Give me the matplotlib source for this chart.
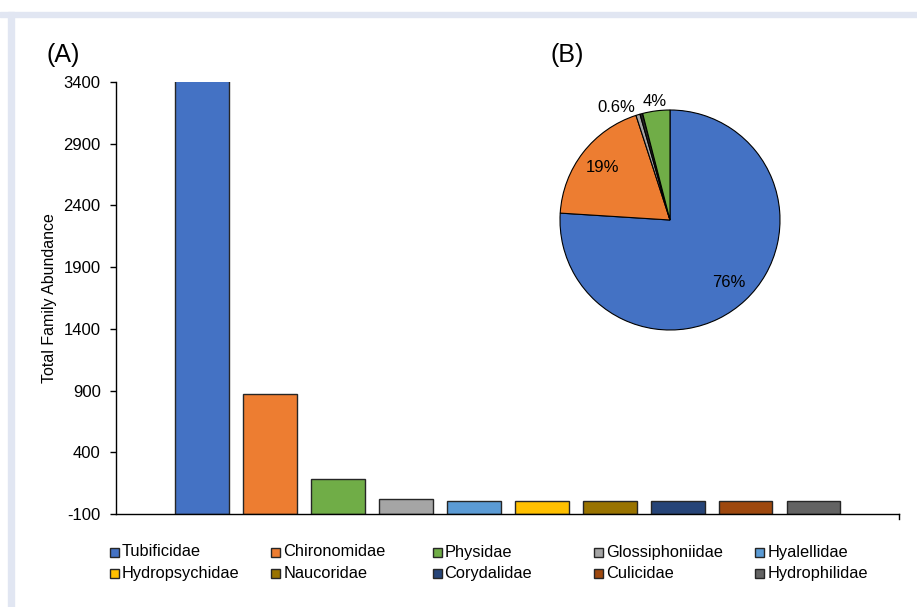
import matplotlib.pyplot as plt
import numpy as np
from matplotlib.patches import Rectangle

plt.rcParams["font.family"] = ["Liberation Sans", "DejaVu Sans"]
plt.rcParams["axes.unicode_minus"] = False

families = ["Tubificidae", "Chironomidae", "Physidae", "Glossiphoniidae", "Hyalellidae",
            "Hydropsychidae", "Naucoridae", "Corydalidae", "Culicidae", "Hydrophilidae"]
abundance = [3480, 875, 185, 25, 8, 8, 4, 4, 4, 4]
colors = ["#4472C4", "#ED7D31", "#70AD47", "#A5A5A5", "#5B9BD5",
          "#FFC000", "#997300", "#264478", "#9E480E", "#636363"]

# pie groups (percent of total abundance)
pie_groups = ["Tubificidae", "Chironomidae", "Glossiphoniidae", "Others", "Physidae"]
pie_share = [76, 19, 0.6, 0.4, 4]
pie_text = ["76%", "19%", "0.6%", "", "4%"]
pie_colors = ["#4472C4", "#ED7D31", "#A5A5A5", "#262626", "#70AD47"]

W, H = 917, 607
fig = plt.figure(figsize=(W / 100, H / 100), dpi=100)

# light frame along the top and left edge
fig.patches.append(Rectangle((0, 1 - 17 / H), 1, 5 / H, transform=fig.transFigure,
                             color="#E1E6F2", zorder=0))
fig.patches.append(Rectangle((8 / W, 0), 6 / W, 1 - 12 / H, transform=fig.transFigure,
                             color="#E1E6F2", zorder=0))


def box(x0, y0, x1, y1):
    return [x0 / W, 1 - y1 / H, (x1 - x0) / W, (y1 - y0) / H]


# (A) bar chart
ax = fig.add_axes(box(116, 82, 899, 514))
x = np.arange(len(families))
ax.bar(x, np.array(abundance) + 100, bottom=-100, width=0.79, color=colors,
       edgecolor="#262626", linewidth=1.0)
ax.set_ylim(-100, 3400)
ax.set_yticks(np.arange(-100, 3401, 500))
ax.set_xlim(-1.265, 10.257)
ax.set_xticks([])
for s in ["top", "right"]:
    ax.spines[s].set_visible(False)
ax.spines["left"].set_linewidth(1.0)
ax.spines["bottom"].set_linewidth(1.0)
ax.tick_params(axis="y", direction="out", length=4, width=1, labelsize=12, pad=7)
ax.set_ylabel("Total Family Abundance", fontsize=11.5, labelpad=5)
ax.plot([1, 1], [0, -0.012], transform=ax.transAxes, color="black", lw=1, clip_on=False)

fig.text(47 / W, 1 - 55 / H, "(A)", fontsize=18, va="center", ha="left")
fig.text(551 / W, 1 - 55 / H, "(B)", fontsize=18, va="center", ha="left")

# legend in two rows of five
for i, (name, c) in enumerate(zip(families, colors)):
    col, row = i % 5, i // 5
    lx = 110 + col * 161.3
    ly = 552 + row * 21.5
    fig.patches.append(Rectangle((lx / W, 1 - (ly + 4.5) / H), 9 / W, 9 / H,
                                 transform=fig.transFigure, facecolor=c,
                                 edgecolor="#262626", linewidth=1))
    fig.text((lx + 12) / W, 1 - ly / H, name, fontsize=11.8, va="center", ha="left")

# (B) pie chart
pax = fig.add_axes(box(560, 110, 780, 330))
wedges, _ = pax.pie(pie_share, colors=pie_colors, startangle=90, counterclock=False,
                    wedgeprops=dict(edgecolor="black", linewidth=0.8))
pax.set_xlim(-1, 1)
pax.set_ylim(-1, 1)
pax.set_aspect("equal")
pax.axis("off")
dists = [0.78, 0.78, 1.07, 1.0, 1.09]
aligns = ["center", "center", "right", "center", "center"]
for w, t, d, ha in zip(wedges, pie_text, dists, aligns):
    if not t:
        continue
    ang = np.deg2rad((w.theta1 + w.theta2) / 2)
    pax.text(d * np.cos(ang), d * np.sin(ang), t, fontsize=12,
             ha=ha, va="center", clip_on=False)

fig.savefig("out.png", dpi=100)
